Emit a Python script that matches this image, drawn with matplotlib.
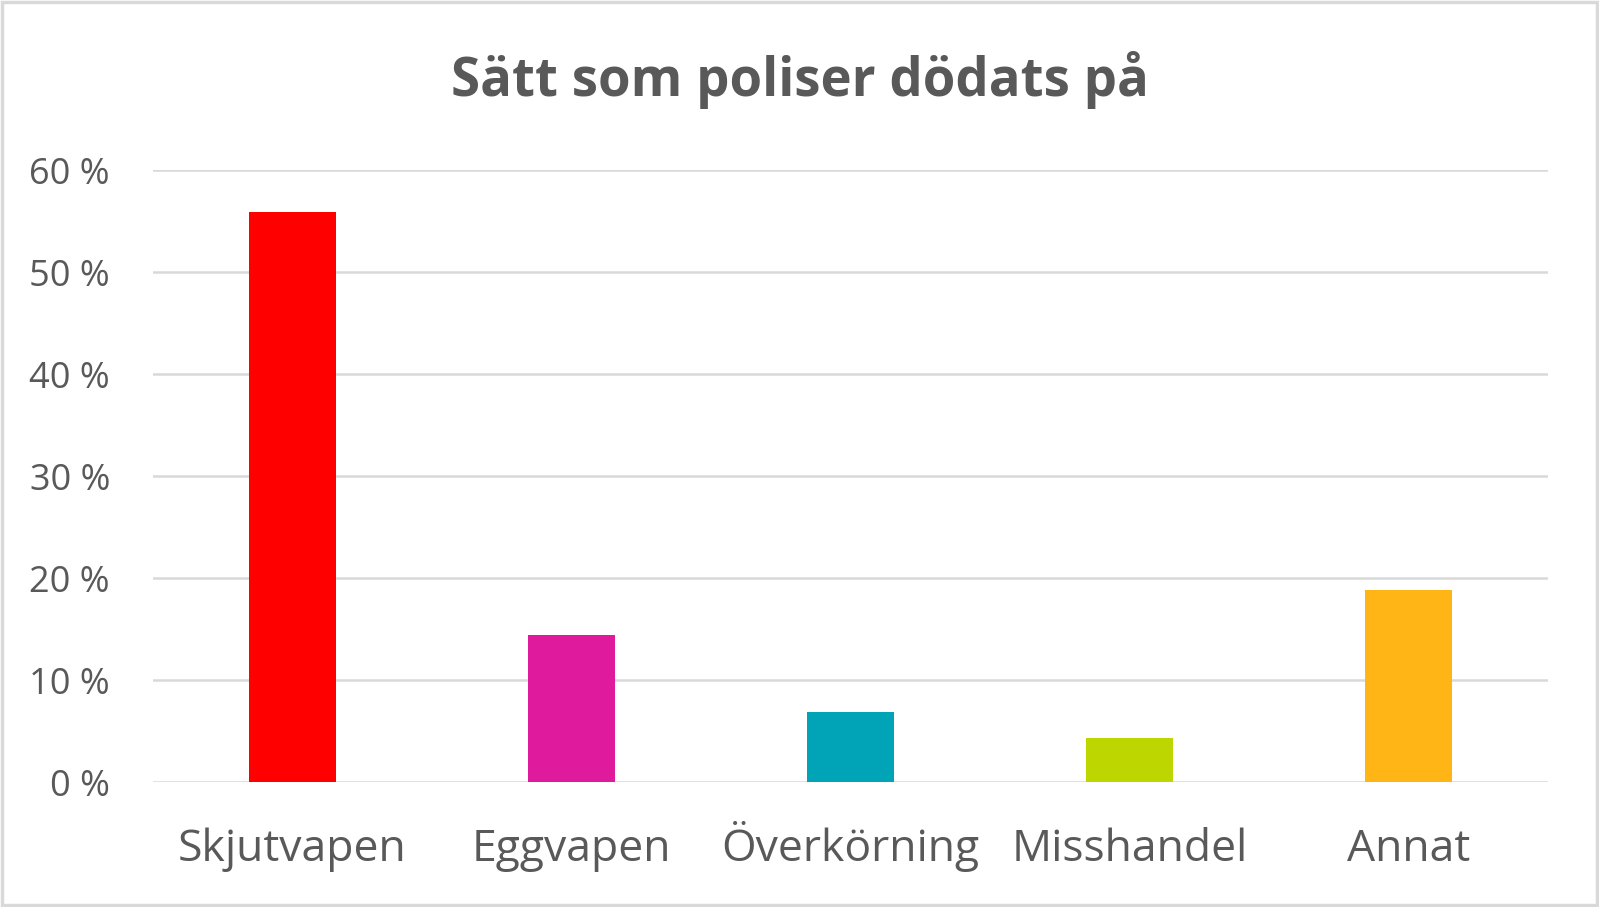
import matplotlib.pyplot as plt
from matplotlib.patches import Rectangle

categories = ["Skjutvapen", "Eggvapen", "Överkörning", "Misshandel", "Annat"]
values = [55.9, 14.4, 6.9, 4.3, 18.8]
colors = ["#ff0000", "#df1a9d", "#01a4b6", "#bdd600", "#ffb515"]
yticks = [0, 10, 20, 30, 40, 50, 60]
ytick_labels = ["0 %", "10 %", "20 %", "30 %", "40 %", "50 %", "60 %"]

plt.rcParams["font.family"] = ["Open Sans", "DejaVu Sans"]
text_col = "#595959"
grid_col = "#d9d9d9"

fig = plt.figure(figsize=(15.99, 9.07), dpi=100)
ax = fig.add_axes([153 / 1599, 1 - 782 / 907, 1395 / 1599, 612 / 907])

x = range(len(categories))
ax.bar(x, values, width=0.31, color=colors, zorder=3)

ax.set_xlim(-0.5, 4.5)
ax.set_ylim(0, 60)
ax.set_yticks(yticks)
ax.set_yticklabels(ytick_labels, fontsize=26, color=text_col)
ax.set_xticks(list(x))
ax.set_xticklabels(categories, fontsize=32, color=text_col, va="baseline")
ax.tick_params(length=0)
ax.tick_params(axis="y", pad=31)
ax.tick_params(axis="x", pad=57)
ax.grid(axis="y", color=grid_col, linewidth=1.8, zorder=0)
for s in ax.spines.values():
    s.set_visible(False)

fig.text(0.5, 1 - 80 / 907, "Sätt som poliser dödats på", ha="center", va="center",
         fontsize=38, fontweight="bold", color=text_col)

# ram runt figuren
fig.patches.append(Rectangle((0.001, 0.002), 0.998, 0.996, transform=fig.transFigure,
                             fill=False, edgecolor=grid_col, linewidth=2.5))

fig.savefig("out.png", dpi=100)
